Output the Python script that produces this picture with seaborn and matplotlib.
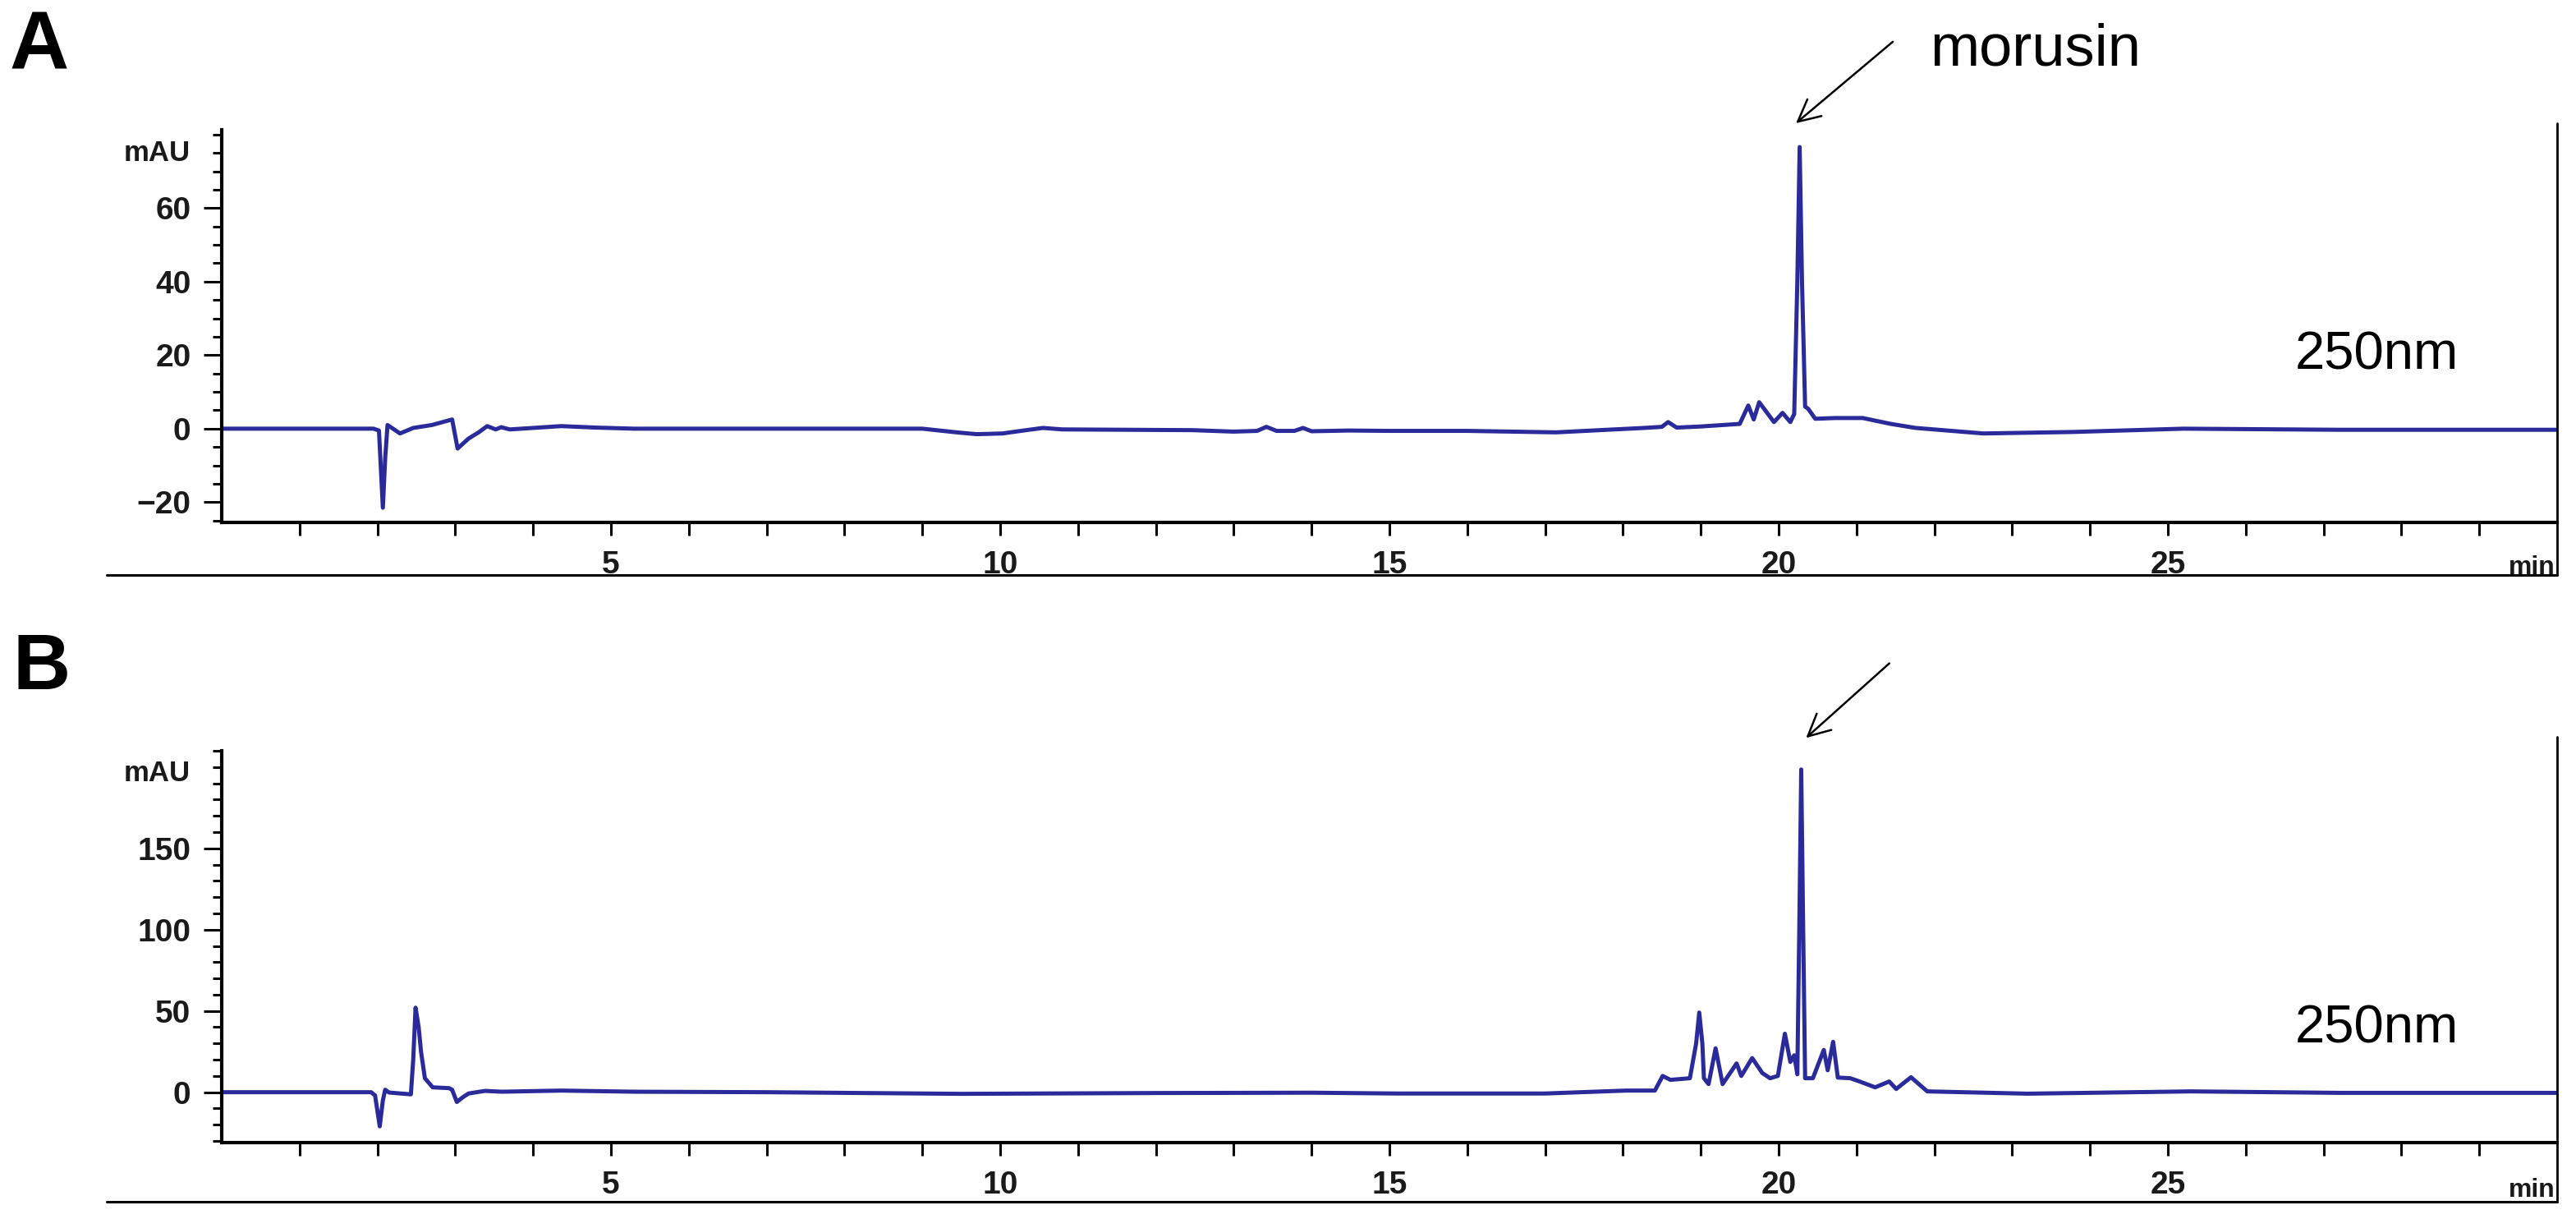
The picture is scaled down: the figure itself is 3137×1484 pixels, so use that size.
import matplotlib
matplotlib.use("Agg")
import matplotlib.pyplot as plt
import seaborn as sns
from matplotlib.ticker import FixedLocator
from matplotlib.lines import Line2D

# chromatogram A (standard), retention time in min, absorbance in mAU
time_a = [0.0, 1.95, 2.02, 2.07, 2.10, 2.13, 2.20, 2.29, 2.46, 2.70, 2.96, 3.03,
          3.17, 3.30, 3.41, 3.52, 3.59, 3.70, 4.00, 4.36, 4.80, 5.30, 7.00, 9.00,
          9.44, 9.70, 10.03, 10.30, 10.55, 10.80, 12.47, 13.00, 13.30, 13.42,
          13.55, 13.78, 13.89, 14.00, 14.48, 15.00, 16.00, 17.14, 17.70, 18.27,
          18.50, 18.58, 18.69, 19.00, 19.50, 19.61, 19.68, 19.75, 19.94, 20.05,
          20.15, 20.20, 20.24, 20.27, 20.30, 20.34, 20.38, 20.47, 20.73, 21.08,
          21.44, 21.76, 22.63, 23.77, 25.20, 27.20, 30.00]
mau_a = [0.0, 0.0, -0.5, -21.5, -8.0, 1.0, 0.0, -1.3, 0.2, 1.0, 2.5, -5.4,
         -2.7, -1.0, 0.7, -0.2, 0.4, -0.2, 0.2, 0.7, 0.3, 0.0, 0.0, 0.0,
         -1.0, -1.5, -1.3, -0.5, 0.2, -0.2, -0.4, -0.8, -0.6, 0.5,
         -0.6, -0.6, 0.2, -0.7, -0.5, -0.6, -0.6, -1.0, -0.4, 0.2,
         0.5, 1.8, 0.3, 0.6, 1.3, 6.3, 2.5, 7.2, 1.8, 4.3,
         1.8, 4.0, 40.0, 76.6, 40.0, 6.0, 5.4, 2.7, 2.9, 2.9,
         1.3, 0.2, -1.3, -0.9, 0.0, -0.3, -0.3]

# chromatogram B (extract)
time_b = [0.0, 1.92, 1.97, 2.03, 2.07, 2.10, 2.15, 2.30, 2.43, 2.46, 2.49, 2.53,
          2.56, 2.61, 2.71, 2.92, 2.96, 3.02, 3.10, 3.17, 3.38, 3.60, 4.36, 5.30,
          7.00, 9.50, 10.50, 12.00, 14.00, 15.10, 17.00, 18.04, 18.41, 18.51,
          18.61, 18.86, 18.94, 18.98, 19.02, 19.04, 19.10, 19.19, 19.28, 19.46,
          19.52, 19.66, 19.79, 19.89, 19.99, 20.08, 20.15, 20.20, 20.24, 20.265,
          20.29, 20.315, 20.34, 20.44, 20.58, 20.63, 20.70, 20.76, 20.92, 21.04,
          21.24, 21.42, 21.51, 21.70, 21.91, 23.20, 25.30, 27.20, 30.00]
mau_b = [0.0, 0.0, -2.0, -21.0, -5.0, 1.5, -0.2, -0.8, -1.3, 20.0, 52.0, 40.0,
         25.0, 8.6, 3.0, 2.5, 1.5, -6.0, -3.0, -0.8, 0.8, 0.3, 1.0, 0.3,
         0.0, -1.0, -0.8, -0.5, -0.3, -0.8, -0.8, 1.0, 1.0, 10.0,
         7.6, 8.6, 30.0, 49.0, 30.0, 8.6, 5.0, 27.0, 5.0, 17.7,
         10.0, 21.0, 11.8, 8.6, 10.0, 36.0, 18.6, 22.7, 11.0, 100.0,
         198.5, 100.0, 8.6, 8.6, 26.0, 13.5, 31.0, 9.0, 8.6, 6.6,
         3.0, 6.6, 2.0, 9.2, 0.5, -0.9, 0.5, -0.4, -0.4]

x_labels = [5, 10, 15, 20, 25]
x_minor = [t for t in range(1, 30) if t % 5 != 0]
y_major_a = [-20, 0, 20, 40, 60]
y_minor_a = list(range(-25, 81, 5))
y_major_b = [0, 50, 100, 150]
y_minor_b = list(range(-30, 211, 10))

TRACE = "#2a2a9a"
W, H = 3137, 1484

sns.set_style("ticks")
plt.rcParams["font.family"] = ["Liberation Sans", "DejaVu Sans"]
plt.rcParams["text.color"] = "black"

fig = plt.figure(figsize=(W / 100, H / 100), dpi=100)
ax_a = fig.add_axes([270 / W, 1 - 636 / H, (3114 - 270) / W, 478 / H])
ax_b = fig.add_axes([270 / W, 1 - 1391 / H, (3114 - 270) / W, 477 / H])


def style_axis(ax, ylim, major, minor):
    ax.set_xlim(0, 30)
    ax.set_ylim(*ylim)
    ax.xaxis.set_major_locator(FixedLocator(x_labels))
    ax.xaxis.set_minor_locator(FixedLocator(x_minor))
    ax.yaxis.set_major_locator(FixedLocator(major))
    ax.yaxis.set_minor_locator(FixedLocator(minor))
    for side in ["top", "right"]:
        ax.spines[side].set_visible(False)
    for side in ["left", "bottom"]:
        ax.spines[side].set_linewidth(3.0)
        ax.spines[side].set_color("black")
    ax.tick_params(axis="x", which="both", direction="out", length=11.5,
                   width=2.2, pad=13, labelsize=28, colors="black",
                   labelcolor="#1a1a1a")
    ax.tick_params(axis="y", which="major", direction="out", length=16,
                   width=2.2, pad=11, labelsize=28, colors="black",
                   labelcolor="#1a1a1a")
    ax.tick_params(axis="y", which="minor", direction="out", length=8,
                   width=2.2, colors="black")
    for lab in ax.get_xticklabels() + ax.get_yticklabels():
        lab.set_fontweight("bold")
    ax.set_xlabel("")
    ax.set_ylabel("")


sns.lineplot(x=time_a, y=mau_a, ax=ax_a, color=TRACE, linewidth=3.6,
             estimator=None, sort=False)
sns.lineplot(x=time_b, y=mau_b, ax=ax_b, color=TRACE, linewidth=3.6,
             estimator=None, sort=False)

style_axis(ax_a, (-25.5, 81.3), y_major_a, y_minor_a)
style_axis(ax_b, (-31, 210), y_major_b, y_minor_b)

# frame of each chromatogram image
for y_bot, y_top in [(700, 150), (1463, 897)]:
    fig.add_artist(Line2D([130 / W, 3114 / W], [1 - y_bot / H] * 2,
                          transform=fig.transFigure, color="black", lw=2.2))
    fig.add_artist(Line2D([3114 / W] * 2, [1 - y_bot / H, 1 - y_top / H],
                          transform=fig.transFigure, color="black", lw=2.0))

# axis unit labels
for y_mau, y_min in [(196, 699), (951, 1457)]:
    fig.text(232 / W, 1 - y_mau / H, "mAU", ha="right", va="baseline",
             fontsize=25, fontweight="bold", color="#1a1a1a")
    fig.text(3112 / W, 1 - y_min / H, "min", ha="right", va="baseline",
             fontsize=23, fontweight="bold", color="#1a1a1a")

# panel letters
fig.text(12 / W, 1 - 85 / H, "A", fontsize=72, fontweight="bold", va="baseline")
fig.text(16 / W, 1 - 839 / H, "B", fontsize=70, fontweight="bold", va="baseline")

# wavelength labels
fig.text(2795 / W, 1 - 449 / H, "250nm", fontsize=47, va="baseline")
fig.text(2795 / W, 1 - 1270 / H, "250nm", fontsize=47, va="baseline")

# morusin peak arrows
arrow = dict(arrowstyle="->", lw=1.8, color="black", mutation_scale=48)
ax_a.annotate("", xy=(20.2, 1.013), xycoords=("data", "axes fraction"),
              xytext=(88, 74), textcoords="offset points", arrowprops=arrow,
              annotation_clip=False)
ax_b.annotate("", xy=(20.33, 1.029), xycoords=("data", "axes fraction"),
              xytext=(76, 68), textcoords="offset points", arrowprops=arrow,
              annotation_clip=False)
fig.text(2350 / W, 1 - 80 / H, "morusin", fontsize=52, va="baseline")

fig.savefig("out.png", dpi=100, facecolor="white")
